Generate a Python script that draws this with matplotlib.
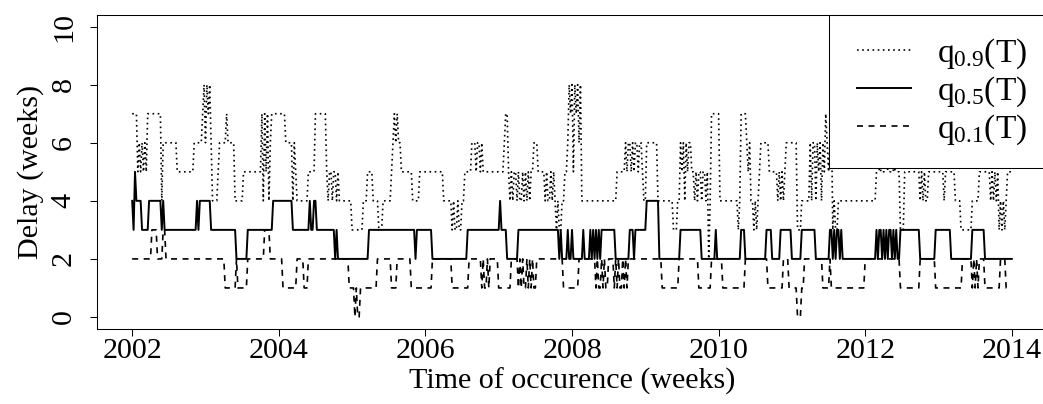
import numpy as np
import matplotlib
matplotlib.use("Agg")
import matplotlib.pyplot as plt
from matplotlib.lines import Line2D
from matplotlib.legend_handler import HandlerLine2D

# ── Datos: cuantiles semanales del retraso (lectura del gráfico) ─────────────
# Cada entrada: (valor, nº de semanas). Serie semanal desde 2002.0 (52 sem/año)
START_YEAR = 2002
WEEKS_PER_YEAR = 52

q90_runs = [
    (7, 4), (5, 1), (6, 1), (5, 1), (6, 1), (5, 1), (6, 1), (5, 1), (7, 10),
    (4, 1), (6, 10), (5, 12), (6, 6), (7, 1),
    (8, 1), (6, 1), (8, 1), (7, 1), (8, 1), (6, 1),
    (4, 4), (5, 1), (6, 5), (7, 1), (6, 5), (4, 6), (5, 13),
    (7, 1), (4, 1), (7, 1), (5, 1), (7, 1), (4, 1), (6, 1),
    (7, 10), (6, 4), (6, 1), (4, 1), (6, 1), (5, 1), (4, 8), (5, 5), (7, 8),
    (5, 1), (4, 1), (5, 2), (4, 1), (5, 2), (4, 1), (5, 1),
    (4, 9), (3, 8), (4, 3), (5, 4), (4, 4), (3, 3), (4, 6), (5, 1),
    (6, 1), (7, 1), (6, 1), (7, 1), (6, 2),
    (5, 8), (4, 5), (5, 17), (4, 6),
    (3, 1), (4, 1), (3, 2), (4, 1), (3, 2),
    (4, 2), (5, 5), (6, 2), (6, 1), (5, 1), (6, 2), (5, 1), (6, 1),
    (5, 15), (6, 1), (7, 2), (5, 1),
    (4, 1), (5, 1), (4, 1), (5, 2), (4, 1), (5, 1), (4, 2), (5, 1), (4, 1),
    (5, 1), (4, 1), (5, 1), (4, 1), (5, 2),
    (6, 3), (5, 4),
    (5, 1), (4, 1), (5, 1), (4, 2), (5, 1), (4, 1), (5, 1), (4, 1),
    (3, 1), (4, 1), (3, 2), (4, 1), (4, 1), (5, 2),
    (6, 1), (8, 1), (7, 1), (8, 1), (5, 1), (8, 1), (7, 1), (8, 1), (6, 1), (8, 1),
    (4, 25), (5, 6),
    (6, 1), (5, 1), (6, 2), (5, 1), (6, 1), (5, 1), (6, 2), (5, 1), (6, 2), (5, 1),
    (4, 2), (6, 8), (4, 11), (3, 3), (4, 2),
    (6, 1), (5, 1), (6, 1), (4, 1), (6, 1), (5, 1), (6, 2), (5, 1),
    (5, 1), (4, 1), (5, 1), (4, 1), (5, 2), (4, 1), (5, 1),
    (5, 1), (4, 1), (5, 1), (2, 1), (4, 1), (7, 6), (4, 13), (3, 1), (4, 1),
    (7, 4), (6, 1), (5, 1), (6, 1), (4, 1),
    (4, 1), (3, 1), (4, 1), (3, 1), (4, 1),
    (5, 1), (6, 6), (5, 5),
    (5, 1), (4, 1), (5, 1), (4, 1), (5, 1), (4, 1), (5, 1),
    (6, 8), (3, 3), (4, 6),
    (6, 1), (4, 1), (6, 2), (4, 1), (6, 1), (5, 1), (6, 1), (4, 1), (6, 1), (5, 1),
    (7, 1), (6, 1), (5, 1), (6, 1), (7, 1),
    (3, 1), (4, 1), (3, 2), (4, 1),
    (4, 26),
    (5, 1), (6, 1), (5, 2), (6, 1), (5, 2), (6, 1), (5, 3), (6, 1), (5, 2),
    (6, 1), (5, 2),
    (3, 3), (5, 11),
    (4, 1), (5, 1), (4, 1), (5, 1), (4, 2), (5, 1),
    (5, 10), (4, 1), (5, 7), (4, 4), (3, 8), (4, 5), (5, 7),
    (5, 1), (4, 1), (5, 1), (4, 1), (5, 1), (4, 1), (5, 1),
    (3, 1), (4, 1), (3, 1), (4, 1), (3, 1), (4, 1),
    (5, 4),
]

q50_runs = [
    (4, 1), (3, 1), (5, 1), (4, 4), (3, 5), (4, 9), (3, 1), (4, 1), (3, 23),
    (4, 1), (3, 1), (4, 8), (3, 18), (2, 8), (3, 18), (4, 14), (3, 12), (4, 1),
    (3, 2), (4, 2), (3, 13), (2, 1), (3, 1), (2, 22), (3, 33), (2, 1), (3, 11),
    (2, 25), (3, 23), (4, 1), (3, 4), (2, 8), (3, 29),
    (2, 1), (3, 1), (2, 4), (3, 1), (2, 2), (3, 1), (2, 7), (3, 1), (2, 4),
    (3, 1), (2, 1), (3, 1), (2, 1), (3, 1), (2, 1), (3, 1), (2, 1),
    (3, 10), (2, 10), (3, 3), (2, 1), (3, 8), (4, 9), (2, 15), (3, 15), (2, 10),
    (3, 1), (2, 17), (3, 3), (2, 15), (3, 4), (2, 6), (3, 8), (2, 7), (3, 10),
    (2, 10),
    (3, 2), (2, 1), (3, 1), (2, 1), (3, 2), (2, 1), (3, 1), (2, 2),
    (2, 22),
    (3, 1), (2, 1), (3, 2), (2, 1), (3, 1), (2, 1), (3, 1), (2, 1), (3, 2),
    (2, 1), (3, 1), (2, 1), (3, 1), (2, 2), (3, 1),
    (3, 13), (2, 11), (3, 11), (2, 15), (3, 9), (2, 20),
]

q10_runs = [
    (2, 14), (3, 4), (2, 4), (3, 2), (2, 42), (1, 8), (2, 1), (1, 7), (2, 12),
    (3, 4), (2, 9), (1, 10), (2, 5), (1, 3), (2, 29), (1, 4), (0, 1), (1, 1),
    (0, 2), (1, 12), (2, 10), (1, 4), (2, 10), (1, 15), (2, 14), (1, 12), (2, 9),
    (1, 1), (2, 1), (1, 2), (2, 1), (1, 1),
    (2, 6), (1, 9), (2, 5),
    (1, 1), (2, 1), (1, 1), (2, 1), (1, 2), (2, 1), (1, 1), (2, 1), (1, 1),
    (2, 1), (1, 2), (2, 1),
    (2, 18), (1, 11), (2, 12),
    (1, 1), (2, 1), (1, 2), (2, 1), (1, 1), (2, 1), (1, 2), (2, 1),
    (2, 3),
    (1, 1), (2, 1), (1, 1), (2, 1), (1, 2), (2, 1), (1, 1), (2, 1), (1, 1),
    (2, 24), (1, 12), (2, 14), (1, 9), (2, 8), (1, 16), (2, 16), (1, 11), (2, 4),
    (1, 6), (0, 3), (1, 2), (2, 13), (1, 5), (2, 1), (1, 24), (2, 25), (1, 14),
    (2, 11), (1, 19), (2, 7),
    (1, 1), (2, 1), (1, 1), (2, 1), (1, 1),
    (2, 4), (1, 11), (2, 4), (1, 5),
]

x_ticks = [2002, 2004, 2006, 2008, 2010, 2012, 2014]
y_ticks = [0, 2, 4, 6, 8, 10]
labels = [r"$\mathrm{q}_{0.9}(\mathrm{T})$",
          r"$\mathrm{q}_{0.5}(\mathrm{T})$",
          r"$\mathrm{q}_{0.1}(\mathrm{T})$"]


def expand(runs):
    vals = np.repeat([v for v, n in runs], [n for v, n in runs]).astype(float)
    t = START_YEAR + np.arange(len(vals)) / WEEKS_PER_YEAR
    return t, vals


plt.rcParams["font.family"] = ["Liberation Serif", "DejaVu Serif"]
plt.rcParams["mathtext.fontset"] = "custom"
plt.rcParams["mathtext.rm"] = "Liberation Serif"
plt.rcParams["mathtext.it"] = "Liberation Serif:italic"
FS = 21.6
FS_LEG = 24

fig = plt.figure(figsize=(10.43, 4.04), dpi=100)
ax = fig.add_axes([97 / 1043, 75.4 / 404, 950 / 1043, 313.6 / 404])

styles = [
    dict(lw=1.2, linestyle=(0, (1, 2.1))),
    dict(lw=1.4, linestyle="-"),
    dict(lw=1.2, linestyle=(0, (3.6, 3.3))),
]
for runs, st in zip([q90_runs, q50_runs, q10_runs], styles):
    t, v = expand(runs)
    ax.plot(t, v, color="black", **st)

ax.set_xlim(2001.52, 2014.48)
ax.set_ylim(-0.4, 10.4)
ax.set_xticks(x_ticks)
ax.set_yticks(y_ticks)
ax.tick_params(axis="both", direction="out", length=5, width=0.75,
               labelsize=FS, color="black")
ax.tick_params(axis="x", pad=2)
ax.tick_params(axis="y", pad=9.5)
for lab in ax.get_yticklabels():
    lab.set_rotation(90)
    lab.set_va("center")
for sp in ax.spines.values():
    sp.set_linewidth(0.75)

ax.set_xlabel("Time of occurence (weeks)", fontsize=FS)
ax.xaxis.set_label_coords(0.5, -0.1256)
ax.set_ylabel("Delay (weeks)", fontsize=FS)
ax.yaxis.set_label_coords(-0.0563, 0.5)

# ── Leyenda (arriba a la derecha, recuadro opaco) ───────────────────────────
handles = [Line2D([], [], color="black", **st) for st in styles]
leg = ax.legend(handles, labels, loc="upper left",
                bbox_to_anchor=((829 - 97) / 950, 1.0),
                borderaxespad=0, fontsize=FS_LEG, frameon=True, fancybox=False,
                framealpha=1, edgecolor="black", borderpad=0.65,
                handlelength=1.8, handletextpad=0.8, labelspacing=0.1,
                handler_map={Line2D: HandlerLine2D(xpad=0.2)})
leg.get_frame().set_linewidth(0.75)

fig.savefig("out.png", dpi=100)
